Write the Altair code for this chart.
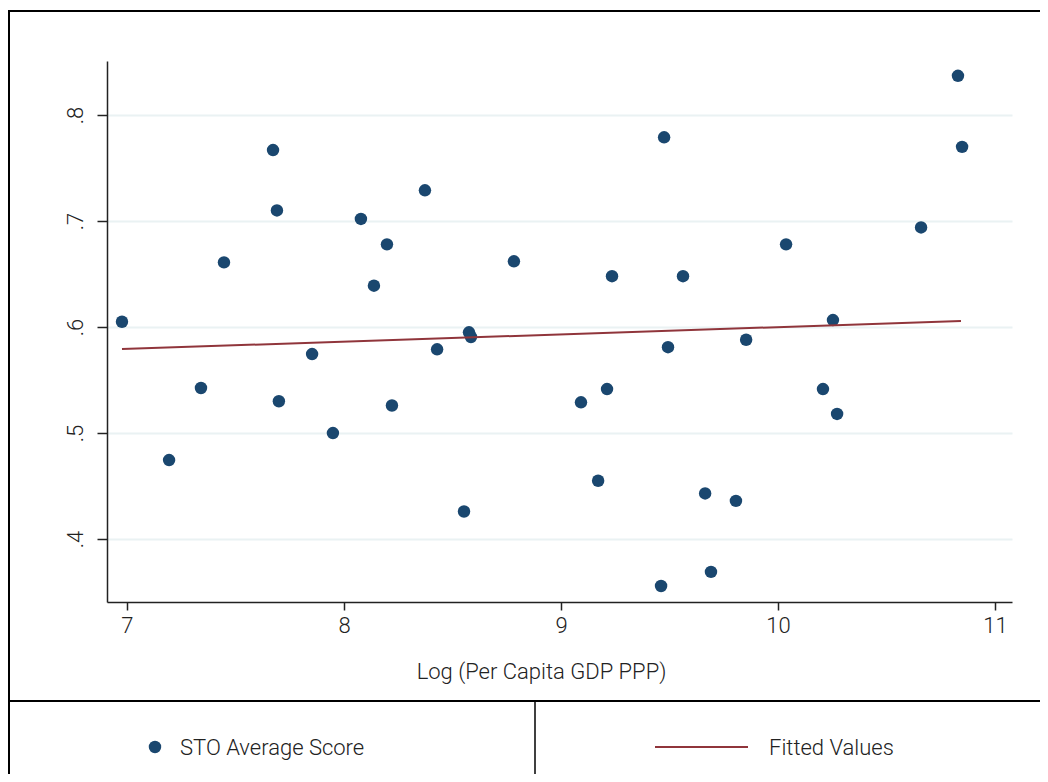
import altair as alt
import pandas as pd

log_gdp = [6.977, 7.194, 7.341, 7.447, 7.673, 7.691, 7.700, 7.853, 7.949, 8.078,
           8.138, 8.198, 8.221, 8.373, 8.429, 8.553, 8.576, 8.585, 8.783, 9.092,
           9.171, 9.212, 9.235, 9.461, 9.475, 9.493, 9.562, 9.664, 9.691, 9.806,
           9.853, 10.037, 10.207, 10.253, 10.272, 10.659, 10.829, 10.848]
sto_score = [0.605, 0.4745, 0.5425, 0.661, 0.767, 0.710, 0.530, 0.5745, 0.500, 0.702,
             0.639, 0.678, 0.526, 0.729, 0.579, 0.426, 0.595, 0.5906, 0.662, 0.529,
             0.455, 0.5415, 0.648, 0.3557, 0.779, 0.581, 0.648, 0.443, 0.369, 0.436,
             0.588, 0.678, 0.5415, 0.6066, 0.518, 0.694, 0.837, 0.770]
fit_x = [6.977, 10.843]
fit_y = [0.5792, 0.6057]
x_ticks = [7, 8, 9, 10, 11]
y_ticks = [0.4, 0.5, 0.6, 0.7, 0.8]
legend_labels = ["STO Average Score", "Fitted Values"]
x_title = "Log (Per Capita GDP PPP)"

NAVY = "#1a476f"
MAROON = "#90353b"
FONT = "Roboto"
TXT = "#222222"
FS = 22
FW = 300

pts = pd.DataFrame({"x": log_gdp, "y": sto_score})
fit = pd.DataFrame({"x": fit_x, "y": fit_y})

xs = alt.Scale(domain=[6.908, 11.078], nice=False, zero=False)
ys = alt.Scale(domain=[0.3406, 0.851], nice=False, zero=False)

xaxis = alt.Axis(values=x_ticks, format="d", title=x_title, grid=False, tickSize=8,
                 labelFontSize=FS, labelFont=FONT, labelFontWeight=FW, labelColor=TXT, labelPadding=5,
                 titleFontSize=FS, titleFont=FONT, titleColor=TXT, titleFontWeight=FW,
                 titleX=434, titleY=69, titleBaseline="middle", titleAnchor="middle",
                 domainColor="#222", tickColor="#222", domainWidth=1.5, tickWidth=1.5)
yaxis = alt.Axis(values=y_ticks, title=None, grid=True, gridColor="#eaf2f3", gridWidth=2,
                 tickSize=10, labelAngle=270, labelFontSize=FS, labelFont=FONT,
                 labelFontWeight=FW, labelColor=TXT, labelPadding=10,
                 labelExpr="substring(format(datum.value, '.1f'), 1)",
                 domainColor="#222", tickColor="#222", domainWidth=1.5, tickWidth=1.5)

points = alt.Chart(pts).mark_circle(size=155, opacity=1, color=NAVY).encode(
    x=alt.X("x:Q", scale=xs, axis=xaxis),
    y=alt.Y("y:Q", scale=ys, axis=yaxis),
)
line = alt.Chart(fit).mark_line(color=MAROON, strokeWidth=2).encode(
    x=alt.X("x:Q", scale=xs),
    y=alt.Y("y:Q", scale=ys),
)

# frame and legend boxes (decoration, pixel positions relative to plot origin)
one = pd.DataFrame({"a": [0]})
frame = [
    alt.Chart(one).mark_rule(color="black", strokeWidth=2).encode(
        x=alt.value(-98), x2=alt.value(940), y=alt.value(-50)),
    alt.Chart(one).mark_rule(color="black", strokeWidth=2).encode(
        x=alt.value(-98), y=alt.value(-51), y2=alt.value(730)),
    alt.Chart(one).mark_rule(color="black", strokeWidth=2).encode(
        x=alt.value(-98), x2=alt.value(940), y=alt.value(640)),
    alt.Chart(one).mark_rule(color="black", strokeWidth=1.5).encode(
        x=alt.value(428), y=alt.value(640), y2=alt.value(730)),
]
leg = [
    alt.Chart(one).mark_circle(size=155, opacity=1, color=NAVY).encode(
        x=alt.value(48), y=alt.value(686)),
    alt.Chart(one).mark_text(text=legend_labels[0], align="left", baseline="middle",
                             font=FONT, fontSize=FS, fontWeight=FW, color=TXT).encode(
        x=alt.value(73), y=alt.value(687)),
    alt.Chart(one).mark_rule(color=MAROON, strokeWidth=2).encode(
        x=alt.value(548), x2=alt.value(641), y=alt.value(686)),
    alt.Chart(one).mark_text(text=legend_labels[1], align="left", baseline="middle",
                             font=FONT, fontSize=FS, fontWeight=FW, color=TXT).encode(
        x=alt.value(662), y=alt.value(687)),
]

chart = alt.layer(points, line, *frame, *leg).properties(
    width=905, height=541,
    autosize=alt.AutoSizeParams(type="none"),
    padding={"left": 99, "top": 53, "right": 28, "bottom": 172},
    background="white",
).configure_view(stroke=None)

chart.save("out.html", embed_options={"renderer": "svg", "actions": False})
